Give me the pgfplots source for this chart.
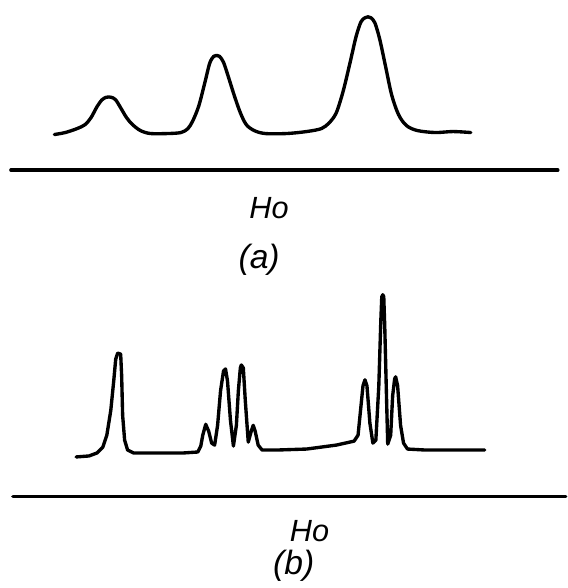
\documentclass[border=0pt]{standalone}
\usepackage{fontspec}
\setmainfont{Liberation Sans}
\usepackage{pgfplots}
\pgfplotsset{compat=1.18}
\pgfplotsset{spec/.style={black, no markers, line width=1.7pt, line join=round, line cap=round}}

\begin{document}
\begin{tikzpicture}
\begin{axis}[
    width=287pt, height=294pt,
    scale only axis,
    xmin=0, xmax=574, ymin=0, ymax=588,
    y dir=reverse,
    hide axis,
    clip=false,
]
% keep the page the size of the reference
\path (rel axis cs:0,0) rectangle (rel axis cs:1,1);

% (a) spectrum, low resolution
\addplot[spec, smooth, tension=0.5] coordinates {
    (55,136) (66,134) (78,130) (86,126) (92,119) (98,108) (103,101) (107,98.5)
    (110,98) (113,98.5) (117,101) (122,109) (128,119) (134,126) (142,132) (152,135) (170,135)
    (183,134) (190,130) (195,122) (201,107) (207,84) (212,64) (216,57)
    (219,56) (222,57) (226,63) (231,78) (237,97) (243,114) (249,126) (257,132) (268,135)
    (290,135) (310,133) (325,130) (333,124) (340,114) (347,92) (354,63)
    (360,37) (365,22) (369,18) (372,17) (375,18) (379,23) (384,40) (390,68) (396,96)
    (403,116) (411,127) (422,132) (440,134) (458,133) (476,134)
};
\addplot[spec] coordinates {(11,172) (564,172)};
\node[font=\fontsize{15.5}{18}\selectfont\itshape] at (axis cs:272,210) {Ho};
\node[font=\fontsize{17}{20}\selectfont\itshape] at (axis cs:262,263) {(a)};

% (b) spectrum, high resolution
\addplot[spec] coordinates {
    (77,462) (90,461) (98,458) (104,452) (108,440) (112,415) (115,385)
    (117,363) (119,357) (122,358) (123,380) (124,420) (126,445) (129,455)
    (135,458) (160,458) (185,458) (200,457) (203,451) (205,440) (208,429)
    (211,436) (214,448) (217,450) (220,430) (223,395) (226,375) (228,373)
    (230,385) (233,425) (236,451) (239,430) (241,395) (243,372) (244,369)
    (246,372) (248,405) (251,447) (254,436) (256,430) (258,436) (261,450)
    (265,455) (280,455) (310,454) (340,450) (358,446) (362,440) (365,410)
    (367,390) (369,384) (371,390) (374,428) (377,448) (380,445) (383,390)
    (385,325) (386,300) (387,298) (388,300) (389,330) (391,410) (392,449)
    (395,440) (397,400) (399,383) (400,381) (402,390) (405,430) (408,448)
    (412,454) (430,455) (460,455) (490,455)
};
\addplot[spec] coordinates {(13,502) (572,502)};
\node[font=\fontsize{15.5}{18}\selectfont\itshape] at (axis cs:313,537) {Ho};
\node[font=\fontsize{17}{20}\selectfont\itshape] at (axis cs:297,572) {(b)};
\end{axis}
\end{tikzpicture}
\end{document}
